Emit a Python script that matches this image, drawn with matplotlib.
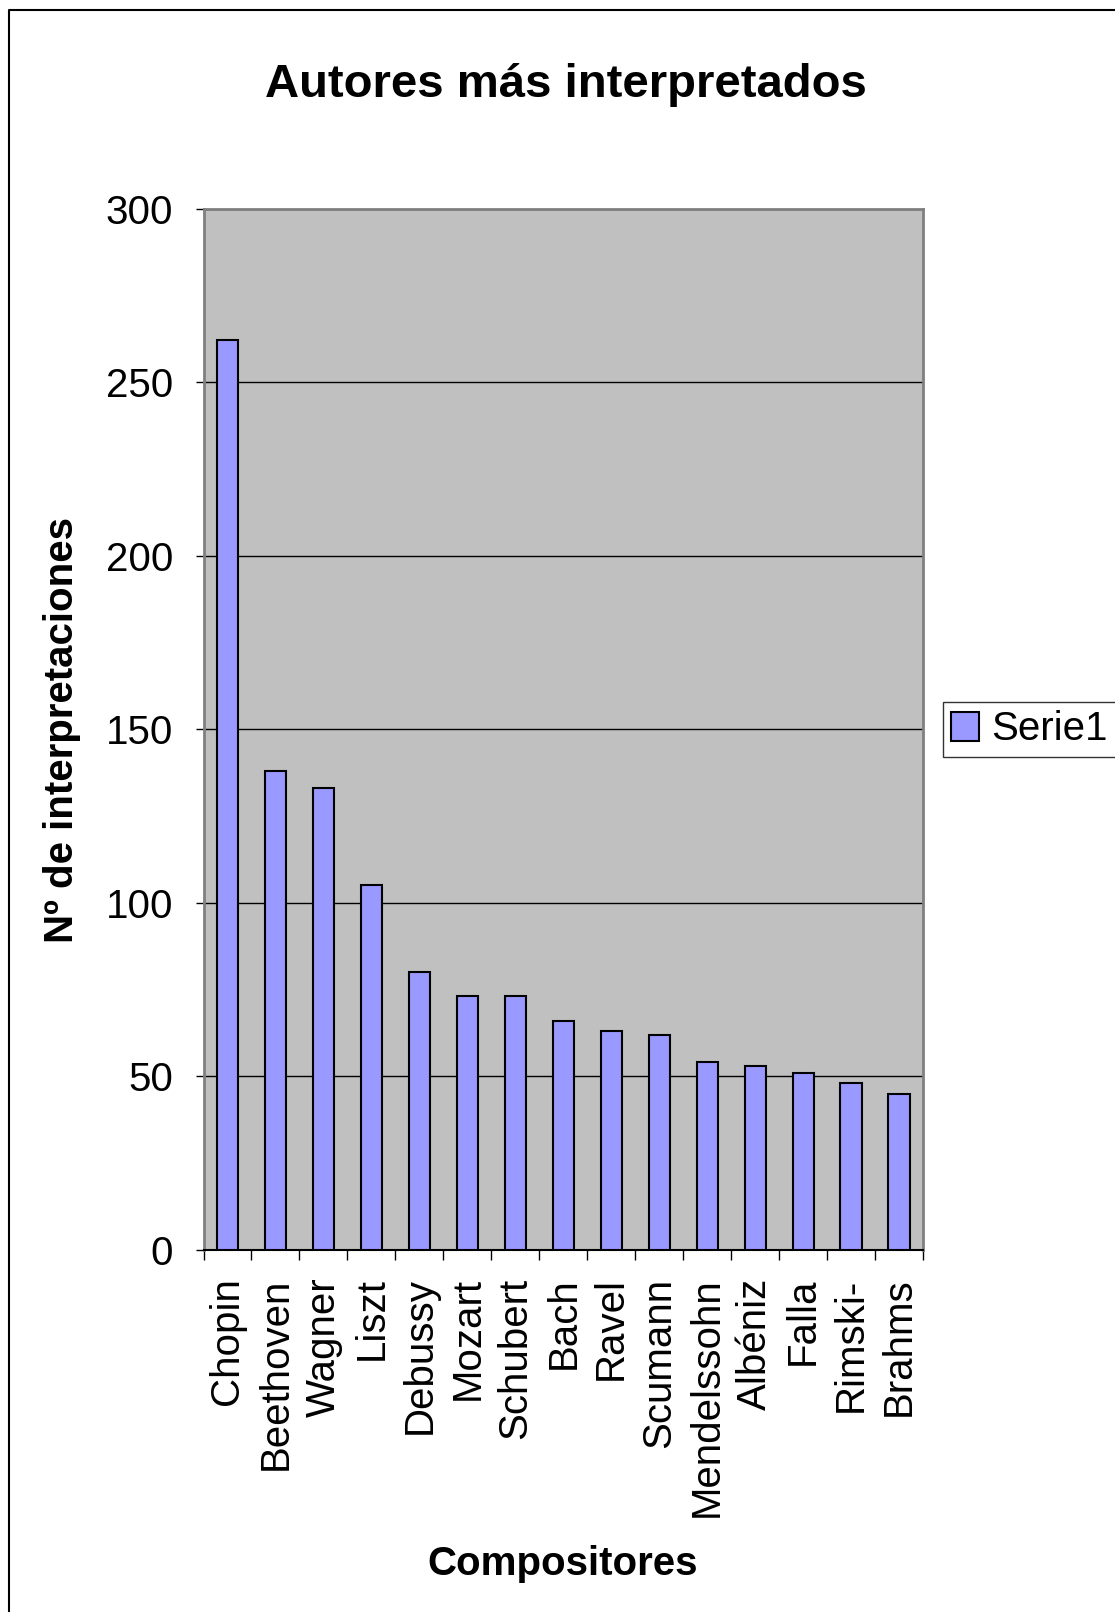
import matplotlib
matplotlib.use("Agg")
import matplotlib.pyplot as plt
import numpy as np
from matplotlib.lines import Line2D
from matplotlib.patches import Patch

plt.rcParams["font.family"] = ["Liberation Sans", "DejaVu Sans"]

composers = [
    "Chopin", "Beethoven", "Wagner", "Liszt", "Debussy", "Mozart", "Schubert",
    "Bach", "Ravel", "Scumann", "Mendelssohn", "Albéniz", "Falla", "Rimski-", "Brahms",
]
performances = [262, 138, 133, 105, 80, 73, 73, 66, 63, 62, 54, 53, 51, 48, 45]
y_ticks = [0, 50, 100, 150, 200, 250, 300]
series_name = "Serie1"

W, H = 1115, 1612
fig = plt.figure(figsize=(W / 100, H / 100), dpi=100)

# plot area in pixels of the full image
left, right, top, bottom = 203.5, 923, 208.6, 1249.7
ax = fig.add_axes([left / W, 1 - bottom / H, (right - left) / W, (bottom - top) / H])
ax.set_facecolor("#C0C0C0")

x = np.arange(len(composers))
ax.bar(x, performances, width=0.44, color="#9999FF", edgecolor="black", linewidth=1.5, zorder=3)

ax.set_xlim(-0.5, len(composers) - 0.5)
ax.set_ylim(0, 300)
ax.set_yticks(y_ticks)
ax.yaxis.grid(True, color="black", linewidth=1.0, zorder=1)
ax.set_axisbelow(True)

# ticks at category boundaries, labels at centres
ax.set_xticks(np.arange(-0.5, len(composers), 1.0))
ax.set_xticklabels([])
ax.set_xticks(x, minor=True)
ax.set_xticklabels(composers, minor=True, rotation=90, va="top", ha="center", fontsize=29)
ax.tick_params(axis="x", which="major", length=7, width=1, color="black", direction="out")
ax.tick_params(axis="x", which="minor", length=0, pad=20)
ax.tick_params(axis="y", length=6, width=1, color="black", direction="out", pad=16, labelsize=29)

for side in ("top", "right", "left"):
    ax.spines[side].set_color("#808080")
    ax.spines[side].set_linewidth(2)
ax.spines["bottom"].set_color("black")
ax.spines["bottom"].set_linewidth(1.5)

fig.text(566 / W, 1 - 85 / H, "Autores más interpretados", ha="center", va="center",
         fontsize=34, fontweight="bold")
fig.text(62 / W, 1 - 730 / H, "Nº de interpretaciones", ha="center", va="center",
         rotation=90, fontsize=29, fontweight="bold")
fig.text(563 / W, 1 - 1564 / H, "Compositores", ha="center", va="center",
         fontsize=29, fontweight="bold")

handle = Patch(facecolor="#9999FF", edgecolor="black", linewidth=1.5)
leg = fig.legend([handle], [series_name], loc="center left",
                 bbox_to_anchor=(943 / W, 1 - 729.5 / H), fontsize=29, frameon=True,
                 fancybox=False, handlelength=0.7, handleheight=0.7, handletextpad=0.3,
                 borderpad=0.2, borderaxespad=0)
leg.get_frame().set_edgecolor("black")
leg.get_frame().set_linewidth(1.0)

# outer chart border (left and top only visible)
fig.add_artist(Line2D([8.5 / W, 8.5 / W, 1.0], [0.0, 1 - 9.5 / H, 1 - 9.5 / H],
                      transform=fig.transFigure, color="black", linewidth=1.5))

fig.savefig("out.png", dpi=100)
